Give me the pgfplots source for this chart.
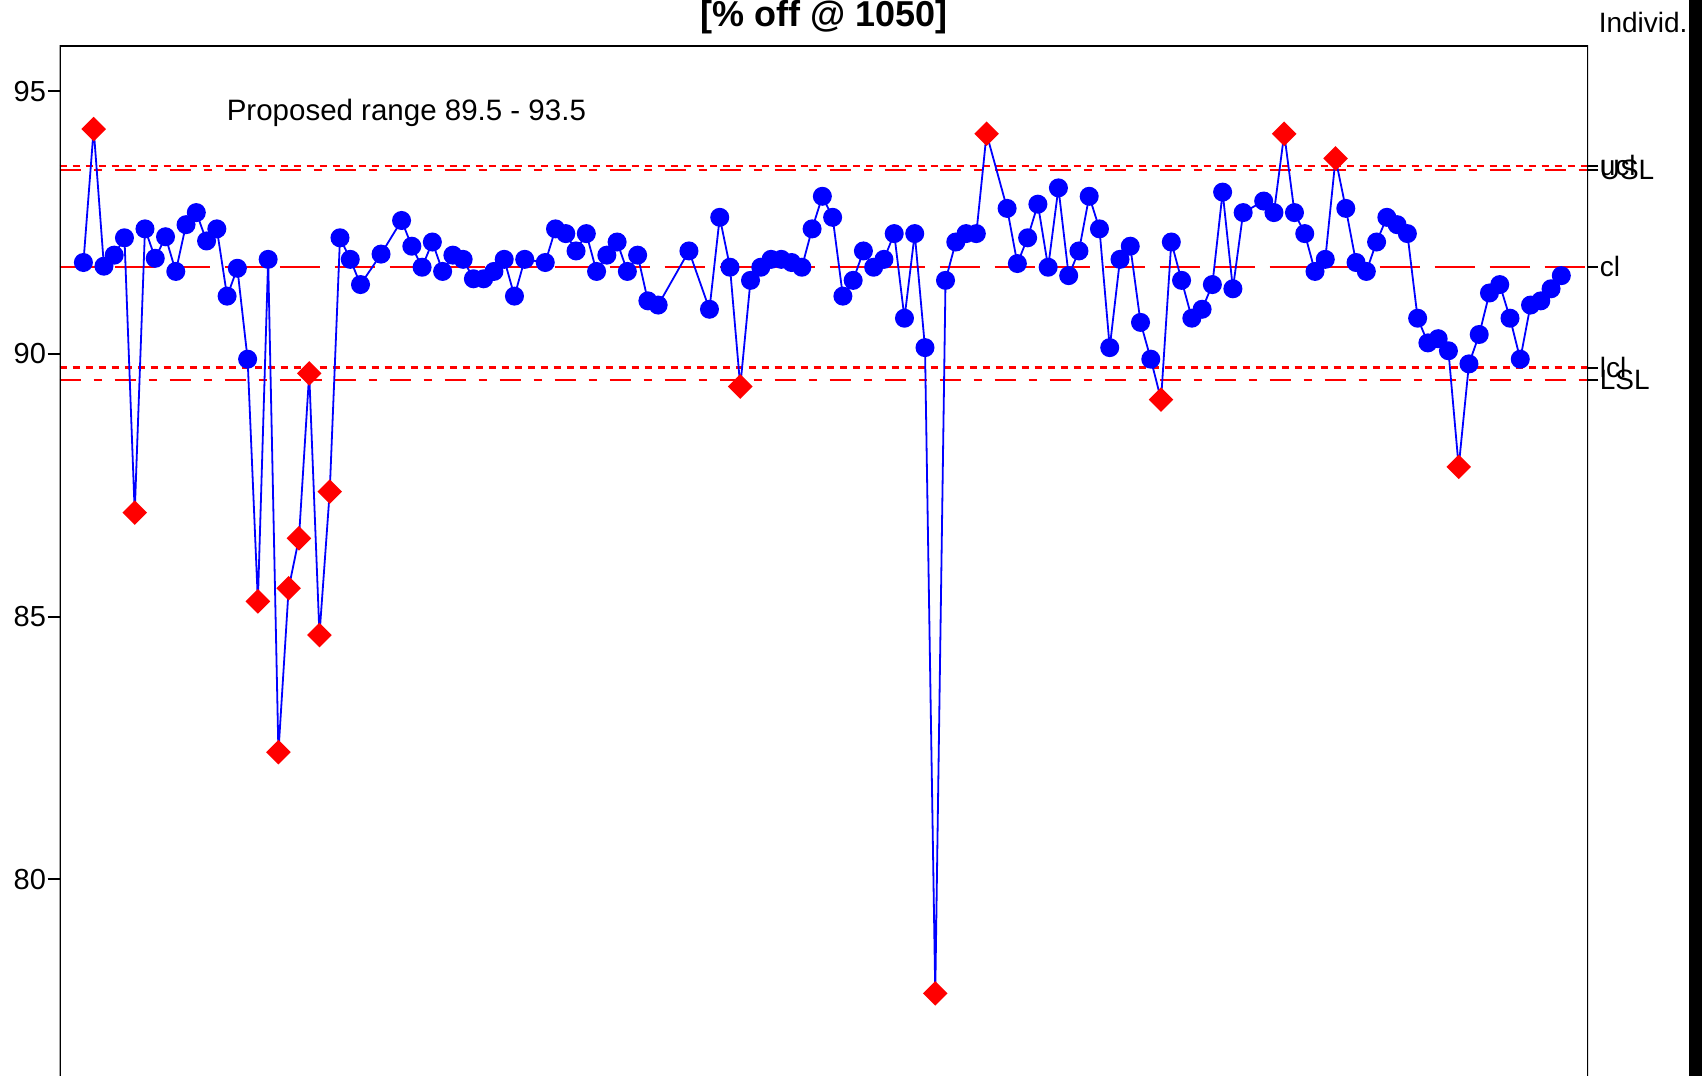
\documentclass[border=0pt]{standalone}
\usepackage{fontspec}
\setmainfont{Liberation Sans}
\usepackage{pgfplots}
\pgfplotsset{compat=1.18}
\usepackage{pgfplotstable}

\pgfdeclareplotmark{sqdiamond}{%
  \pgfpathmoveto{\pgfqpoint{0pt}{1.28\pgfplotmarksize}}%
  \pgfpathlineto{\pgfqpoint{1.28\pgfplotmarksize}{0pt}}%
  \pgfpathlineto{\pgfqpoint{0pt}{-1.28\pgfplotmarksize}}%
  \pgfpathlineto{\pgfqpoint{-1.28\pgfplotmarksize}{0pt}}%
  \pgfpathclose\pgfusepathqfillstroke}

\pgfplotstableread{
i v f
0 91.74 n
1 94.28 o
2 91.67 n
3 91.88 n
4 92.21 n
5 86.98 o
6 92.38 n
7 91.82 n
8 92.23 n
9 91.57 n
10 92.46 n
11 92.69 n
12 92.15 n
13 92.38 n
14 91.10 n
15 91.63 n
16 89.90 n
17 85.29 o
18 91.80 n
19 82.42 o
20 85.54 o
21 86.49 o
22 89.63 o
23 84.65 o
24 87.38 o
25 92.21 n
26 91.80 n
27 91.32 n
29 91.90 n
31 92.54 n
32 92.05 n
33 91.65 n
34 92.13 n
35 91.57 n
36 91.88 n
37 91.80 n
38 91.43 n
39 91.43 n
40 91.57 n
41 91.80 n
42 91.10 n
43 91.80 n
45 91.74 n
46 92.38 n
47 92.29 n
48 91.96 n
49 92.29 n
50 91.57 n
51 91.88 n
52 92.13 n
53 91.57 n
54 91.88 n
55 91.01 n
56 90.93 n
59 91.96 n
61 90.85 n
62 92.60 n
63 91.65 n
64 89.38 o
65 91.40 n
66 91.65 n
67 91.80 n
68 91.80 n
69 91.74 n
70 91.65 n
71 92.38 n
72 93.00 n
73 92.60 n
74 91.10 n
75 91.40 n
76 91.96 n
77 91.65 n
78 91.80 n
79 92.29 n
80 90.68 n
81 92.29 n
82 90.12 n
83 77.83 o
84 91.40 n
85 92.13 n
86 92.29 n
87 92.29 n
88 94.19 o
90 92.77 n
91 91.72 n
92 92.21 n
93 92.85 n
94 91.65 n
95 93.16 n
96 91.49 n
97 91.96 n
98 93.00 n
99 92.38 n
100 90.12 n
101 91.80 n
102 92.05 n
103 90.60 n
104 89.90 n
105 89.13 o
106 92.13 n
107 91.40 n
108 90.68 n
109 90.85 n
110 91.32 n
111 93.08 n
112 91.24 n
113 92.69 n
115 92.91 n
116 92.69 n
117 94.19 o
118 92.69 n
119 92.29 n
120 91.57 n
121 91.80 n
122 93.72 o
123 92.77 n
124 91.74 n
125 91.57 n
126 92.13 n
127 92.60 n
128 92.46 n
129 92.29 n
130 90.68 n
131 90.21 n
132 90.29 n
133 90.06 n
134 87.85 o
135 89.81 n
136 90.37 n
137 91.16 n
138 91.32 n
139 90.68 n
140 89.90 n
141 90.93 n
142 91.01 n
143 91.24 n
144 91.49 n
}\spcdata

\begin{document}
\begin{tikzpicture}
\useasboundingbox (0pt,0pt) rectangle (425.5pt,-269pt);
\begin{axis}[
  at={(14.925pt,-11.4pt)}, anchor=north west,
  scale only axis, width=382.075pt, height=257.6pt,
  xmin=-2.31, xmax=146.6, ymin=76.256, ymax=95.868,
  xtick=\empty, ytick={80,85,90,95}, ytick pos=left,
  tick align=outside, major tick length=3pt,
  axis line style={draw=none},
  every tick/.style={line width=0.5pt, black},
  yticklabel style={font=\fontsize{7.25}{8.5}\selectfont, inner xsep=0.25pt},
  /pgf/number format/assume math mode=true,
]
\addplot[red, line width=0.575pt, dash pattern=on 1.75pt off 1.5pt] coordinates {(-2.31,93.58) (146.6,93.58)};
\addplot[red, line width=0.575pt, dash pattern=on 5.25pt off 3.25pt on 2pt off 3.25pt] coordinates {(-2.31,93.5) (146.6,93.5)};
\addplot[red, line width=0.575pt, dash pattern=on 10pt off 3.75pt] coordinates {(-2.31,91.66) (146.6,91.66)};
\addplot[red, line width=0.575pt, dash pattern=on 1.75pt off 1.5pt] coordinates {(-2.31,89.74) (146.6,89.74)};
\addplot[red, line width=0.575pt, dash pattern=on 5.25pt off 3.25pt on 2pt off 3.25pt] coordinates {(-2.31,89.5) (146.6,89.5)};
\addplot[blue, line width=0.45pt, mark size=2.15pt,
  scatter, scatter src=explicit symbolic,
  scatter/classes={n={mark=*, draw=blue, fill=blue}, o={mark=sqdiamond, draw=red, fill=red}}]
  table[x=i, y=v, meta=f] {\spcdata};
\draw[line width=0.5pt, black] (rel axis cs:0,0) -- (rel axis cs:0,1) -- (rel axis cs:1,1) -- (rel axis cs:1,0);
\end{axis}
\begin{axis}[
  at={(14.925pt,-11.4pt)}, anchor=north west,
  scale only axis, width=382.075pt, height=257.6pt,
  xmin=-2.31, xmax=146.6, ymin=76.256, ymax=95.868,
  xtick=\empty, ytick={93.58,93.5,91.66,89.74,89.5},
  yticklabels={ucl,USL,cl,lcl,LSL}, ytick pos=right, yticklabel pos=right,
  tick align=outside, major tick length=2.5pt,
  axis line style={draw=none},
  every tick/.style={line width=0.5pt, black},
  yticklabel style={font=\fontsize{7}{8}\selectfont, inner xsep=0.25pt},
]
\addplot[draw=none] coordinates {(0,90)};
\end{axis}
\node[anchor=base west, inner sep=0pt, font=\fontsize{7.375}{8.5}\selectfont] at (56.5pt,-30pt) {Proposed range 89.5 - 93.5};
\node[overlay, anchor=base, inner sep=0pt, font=\fontsize{9}{10}\selectfont\bfseries] at (206pt,-6.5pt) {[\% off @ 1050]};
\node[anchor=base west, inner sep=0pt, font=\fontsize{7}{8}\selectfont] at (399.5pt,-8pt) {Individ.};
\fill[black] (422.25pt,0pt) rectangle (425.5pt,-269pt);
\end{tikzpicture}
\end{document}
